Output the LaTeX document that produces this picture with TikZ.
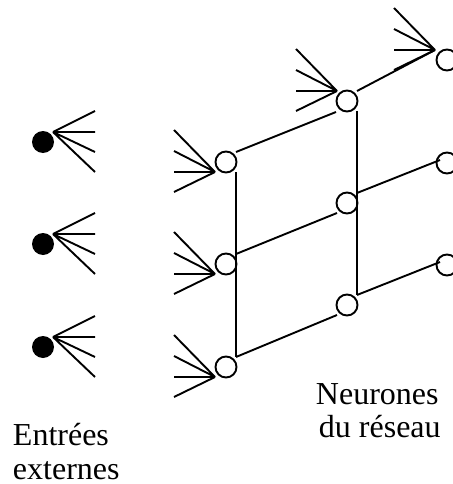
\documentclass[tikz,border=0pt]{standalone}
\usepackage{fontspec}
\setmainfont{Liberation Serif}
\usetikzlibrary{calc}
\begin{document}
\begin{tikzpicture}[x=1pt,y=-1pt,line width=1.9pt,
  neuron/.style={circle,draw,line width=1.9pt,minimum size=21pt,inner sep=0pt},
  dot/.style={circle,fill=black,minimum size=22pt,inner sep=0pt},
  lbl/.style={anchor=base west,inner sep=0pt,font=\fontsize{32}{34}\selectfont}]
\useasboundingbox (0,0) rectangle (452,484);
% external inputs
\foreach \i/\y in {1/142,2/244,3/347}{
  \node[dot] (e\i) at (43,\y) {};
  \coordinate (ae\i) at ($(e\i)+(10,-10)$);
  \draw (ae\i) -- ++(42,-21) (ae\i) -- ++(42,0) (ae\i) -- ++(42,20) (ae\i) -- ++(42,40);
}
% neurons
\node[neuron] (b11) at (226,162) {};
\node[neuron] (b12) at (226,264) {};
\node[neuron] (b13) at (226,367) {};
\node[neuron] (b21) at (347,101) {};
\node[neuron] (b22) at (347,203) {};
\node[neuron] (b23) at (347,305) {};
\node[neuron] (b31) at (447,60) {};
\node[neuron] (b32) at (447,163) {};
\node[neuron] (b33) at (447,265) {};
% fan-in apexes
\coordinate (f11) at ($(b11)+(-11,10)$);
\coordinate (f12) at ($(b12)+(-11,10)$);
\coordinate (f13) at ($(b13)+(-11,10)$);
\coordinate (f21) at ($(b21)+(-10,-10)$);
\coordinate (f31) at ($(b31)+(-12,-10)$);
\foreach \f in {f11,f12,f13,f21,f31}{
  \draw (\f) -- ++(-41,-42) (\f) -- ++(-41,-21) (\f) -- ++(-41,0) (\f) -- ++(-41,20);
}
% connections
\draw ($(b11)+(10,-10)$) -- ($(b21)+(-11,11)$);
\draw ($(b12)+(10,-10)$) -- ($(b22)+(-10,10)$);
\draw ($(b13)+(10,-10)$) -- ($(b23)+(-10,10)$);
\draw ($(b21)+(10,-10)$) -- (f31);
\draw ($(b22)+(10,-10)$) -- ($(b32)+(-7,-3)$);
\draw ($(b23)+(10,-10)$) -- ($(b33)+(-7,-3)$);
\draw ($(b11)+(10,10)$) -- ($(b13)+(10,-10)$);
\draw ($(b21)+(10,10)$) -- ($(b23)+(10,-10)$);
% labels
\node[lbl] (t1) at (12,445) {Entrées};
\node[lbl] (t2) at (12,479) {externes};
\node[lbl] (t3) at (315,404) {Neurones};
\node[lbl] (t4) at (318,437) {du réseau};
\end{tikzpicture}
\end{document}
